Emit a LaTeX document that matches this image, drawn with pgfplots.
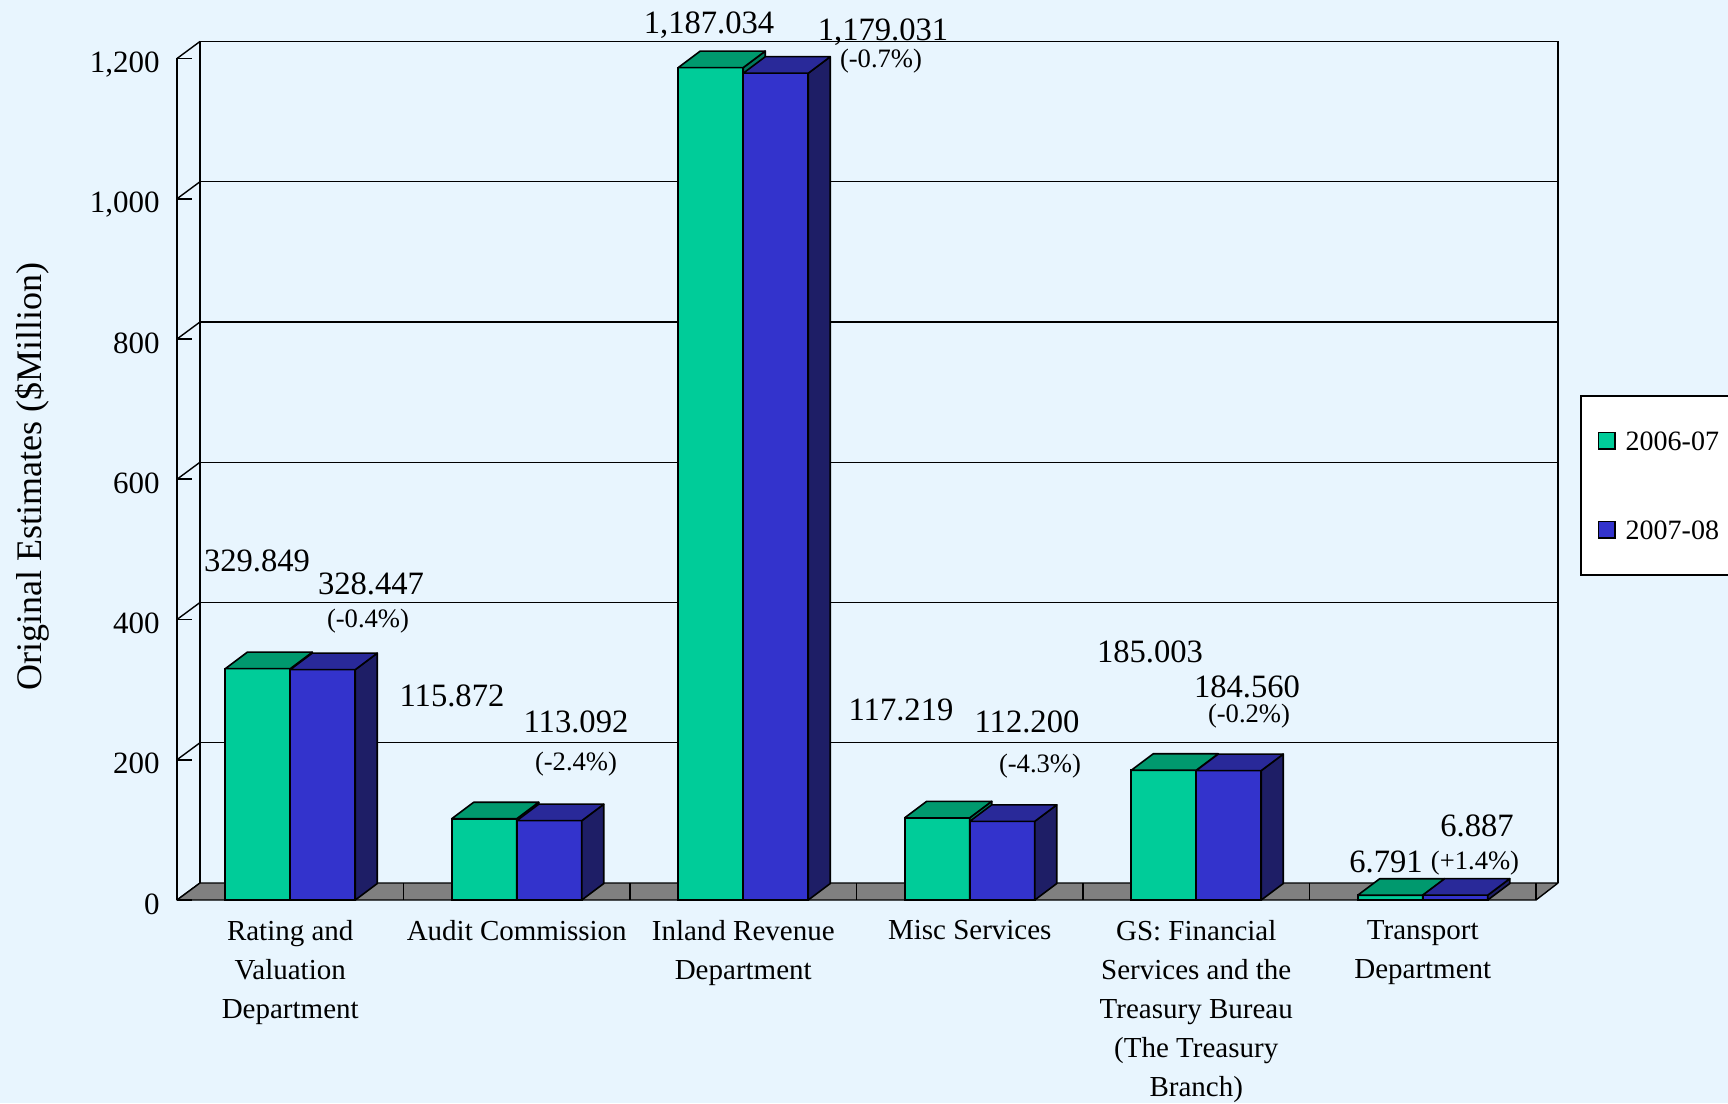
\documentclass[border=0pt]{standalone}
\usepackage{fontspec}
\setmainfont{Liberation Serif}
\usepackage{pgfplots}
\usepackage{pgfplotstable}
\pgfplotsset{compat=1.18}

\definecolor{bg}{HTML}{E8F5FE}
\definecolor{gfront}{HTML}{00CC99}
\definecolor{gtop}{HTML}{00996E}
\definecolor{gside}{HTML}{007A5C}
\definecolor{bfront}{HTML}{3333CC}
\definecolor{btop}{HTML}{292999}
\definecolor{bside}{HTML}{1E1E66}
\definecolor{floorgray}{HTML}{808080}

\pgfdeclareplotmark{nothing}{}

\newcommand\vfont{\fontsize{16.3}{18}\selectfont}
\newcommand\pfont{\fontsize{13.3}{15}\selectfont}

% Original estimates, $ million
\pgfplotstableread{
x v
0 329.849
1 115.872
2 1187.034
3 117.219
4 185.003
5 6.791
}\tabA
\pgfplotstableread{
x v
0 328.447
1 113.092
2 1179.031
3 112.200
4 184.560
5 6.887
}\tabB

\begin{document}
\begin{tikzpicture}
\useasboundingbox (0,0) rectangle (864pt,551.5pt);
\clip (0,0) rectangle (864pt,551.5pt);
\fill[bg] (0,0) rectangle (864pt,551.5pt);

% walls and floor, in pixels of the reference
\begin{scope}[x=0.5pt,y=-0.5pt,yshift=551.5pt,line width=0.7pt]
  \foreach \k in {1,...,6}
    \draw (200,883-140.25*\k) -- (1558,883-140.25*\k);
  \draw (200,41.5) -- (200,883);
  \draw (1558,41.5) -- (1558,883);
  \foreach \k in {0,...,6}
    \draw (177,900-140.25*\k) -- (200,883-140.25*\k);
  \filldraw[fill=floorgray, line join=round] (177,900) -- (1536,900) -- (1558,883) -- (200,883) -- cycle;
  \foreach \k in {1,...,6}
    \draw (177+226.5*\k,883) -- (177+226.5*\k,900);
\end{scope}

\begin{axis}[
  at={(88.5pt,101.5pt)}, anchor=south west,
  scale only axis, width=679.5pt, height=420.75pt,
  xmin=-0.5, xmax=5.5, ymin=0, ymax=1200,
  clip=false,
  axis lines=left,
  axis line style={-, line width=0.85pt},
  x axis line style={draw=none},
  xtick={0,...,5},
  xticklabels={{Rating and\\Valuation\\Department},
    {Audit Commission},
    {Inland Revenue\\Department},
    {Misc Services},
    {GS: Financial\\Services and the\\Treasury Bureau\\(The Treasury\\Branch)},
    {Transport\\Department}},
  xtick style={draw=none},
  xticklabel style={align=center, anchor=north, inner sep=0pt, yshift=-10pt,
    font=\fontsize{14.5}{19.5}\selectfont},
  ytick={0,200,...,1200},
  ytick style={line width=0.85pt, black},
  tick align=inside,
  major tick length=7.5pt,
  /pgf/number format/assume math mode=true,
  yticklabel style={anchor=base east, inner sep=0pt, xshift=-8.5pt, yshift=-7.1pt,
    font=\fontsize{15.5}{17}\selectfont, /pgf/number format/1000 sep={,}},
  ylabel={Original Estimates (\$Million)},
  ylabel style={at={(axis description cs:-0.1067,0.5027)}, anchor=center,
    inner sep=0pt, font=\fontsize{18}{20}\selectfont},
  legend style={at={(axis description cs:1.0324,0.6001)}, anchor=north west,
    fill=white, draw=black, line width=0.8pt,
    font=\fontsize{14}{16}\selectfont,
    inner xsep=5.5pt, inner ysep=17.75pt, row sep=35pt, column sep=5pt,
    nodes={inner sep=0pt, text height=9.5pt, text depth=0pt}},
  legend cell align=left,
]

% front faces
\addplot[ybar, bar width=32.5pt, bar shift=-16.25pt, fill=gfront, draw=black,
  line width=0.8pt,
  legend image code/.code={\path (0pt,0pt);
    \draw[fill=gfront, draw=black, line width=0.7pt] (3pt,-4.1pt) rectangle (11.2pt,4.1pt);}]
  table[x=x, y=v] {\tabA};
\addlegendentry{2006-07}
\addplot[ybar, bar width=32.5pt, bar shift=16.25pt, fill=bfront, draw=black,
  line width=0.8pt,
  legend image code/.code={\path (0pt,0pt);
    \draw[fill=bfront, draw=black, line width=0.7pt] (3pt,-4.1pt) rectangle (11.2pt,4.1pt);}]
  table[x=x, y=v] {\tabB};
\addlegendentry{2007-08}

% depth of the 2006-07 bars (marks are laid over all plots)
\addplot[forget plot, scatter, only marks, mark=nothing,
  visualization depends on={\thisrow{v} \as \val},
  scatter/@pre marker code/.code={%
    \pgfmathsetmacro\barh{\val*0.350625}%
    \filldraw[fill=gside, draw=black, line width=0.8pt, line join=round]
      (0pt,0pt) -- (11pt,8.25pt) -- (11pt,8.25pt-\barh pt) -- (0pt,-\barh pt) -- cycle;
    \filldraw[fill=gtop, draw=black, line width=0.8pt, line join=round]
      (-32.5pt,0pt) -- (0pt,0pt) -- (11pt,8.25pt) -- (-21.5pt,8.25pt) -- cycle;
  },
  scatter/@post marker code/.code={}]
  table[x=x, y=v] {\tabA};

% 2007-08 bars again on top, with their depth
\addplot[forget plot, scatter, only marks, mark=nothing,
  visualization depends on={\thisrow{v} \as \val},
  scatter/@pre marker code/.code={%
    \pgfmathsetmacro\barh{\val*0.350625}%
    \filldraw[fill=bfront, draw=black, line width=0.8pt, line join=round]
      (0pt,0pt) rectangle (32.5pt,-\barh pt);
    \filldraw[fill=bside, draw=black, line width=0.8pt, line join=round]
      (32.5pt,0pt) -- (43.5pt,8.25pt) -- (43.5pt,8.25pt-\barh pt) -- (32.5pt,-\barh pt) -- cycle;
    \filldraw[fill=btop, draw=black, line width=0.8pt, line join=round]
      (0pt,0pt) -- (32.5pt,0pt) -- (43.5pt,8.25pt) -- (11pt,8.25pt) -- cycle;
  },
  scatter/@post marker code/.code={}]
  table[x=x, y=v] {\tabB};
\end{axis}

% data labels, in pixels of the reference
\begin{scope}[x=0.5pt,y=-0.5pt,yshift=551.5pt,
  v/.style={anchor=base, inner sep=0pt, font=\vfont},
  p/.style={anchor=base, inner sep=0pt, font=\pfont}]
  \node[v] at (257,572) {329.849};
  \node[v] at (371,595) {328.447};
  \node[p] at (368,628) {(-0.4\%)};
  \node[v] at (452,707) {115.872};
  \node[v] at (576,733) {113.092};
  \node[p] at (576,771) {(-2.4\%)};
  \node[v] at (709,34) {1,187.034};
  \node[v] at (883,41) {1,179.031};
  \node[p] at (881,68) {(-0.7\%)};
  \node[v] at (901,721) {117.219};
  \node[v] at (1027,733) {112.200};
  \node[p] at (1040,773) {(-4.3\%)};
  \node[v] at (1150,663) {185.003};
  \node[v] at (1247,698) {184.560};
  \node[p] at (1249,723) {(-0.2\%)};
  \node[v] at (1386,873) {6.791};
  \node[v] at (1477,837) {6.887};
  \node[p] at (1475,869) {(+1.4\%)};
\end{scope}
\end{tikzpicture}
\end{document}
